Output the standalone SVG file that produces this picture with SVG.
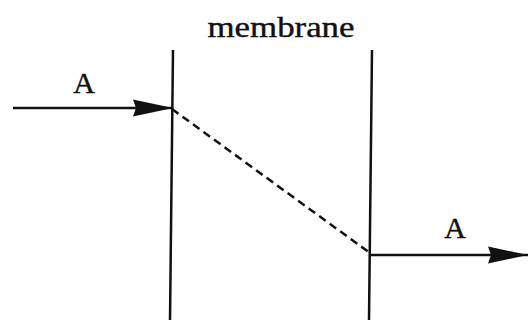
<svg xmlns="http://www.w3.org/2000/svg" width="528" height="320" viewBox="0 0 528 320">
<defs>
<marker id="ah" markerWidth="40" markerHeight="20" refX="40" refY="10" orient="auto" markerUnits="userSpaceOnUse">
<path d="M0,1.5 L40,10 L0,18.5 L3,10 Z" fill="#111"/>
</marker>
<style>
.t{font-family:"Liberation Serif","Times New Roman",serif;fill:#111;stroke:#111;stroke-width:0.4}
.ln{stroke:#111;stroke-width:2.5;fill:none}
</style>
</defs>
<rect width="528" height="320" fill="#fff"/>
<g id="membrane">
<line class="ln" x1="173" y1="50" x2="170" y2="320"/>
<line class="ln" x1="372" y1="50" x2="369" y2="320"/>
<text class="t" x="281" y="37" font-size="29" text-anchor="middle" textLength="147" lengthAdjust="spacingAndGlyphs">membrane</text>
</g>
<g id="labelA1"><text class="t" x="84" y="93" font-size="30" text-anchor="middle">A</text></g>
<g id="labelA2"><text class="t" x="455" y="238" font-size="30" text-anchor="middle">A</text></g>
<g id="connectors">
<line class="ln" x1="13" y1="108" x2="173" y2="108" marker-end="url(#ah)"/>
<line class="ln" x1="172" y1="109" x2="370" y2="253" stroke-dasharray="8,5" stroke-width="3"/>
<line class="ln" x1="370" y1="255" x2="528" y2="255" marker-end="url(#ah)"/>
</g>
</svg>
